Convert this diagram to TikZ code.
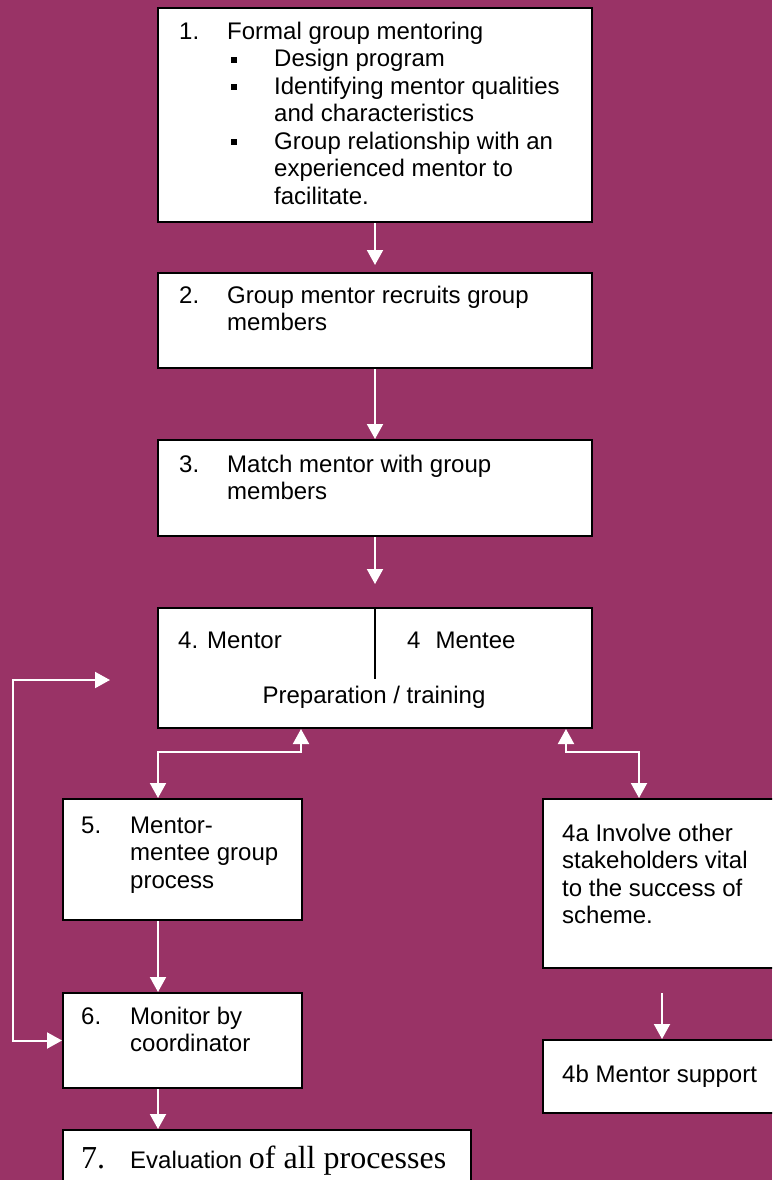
\documentclass[tikz,border=0pt]{standalone}
\usepackage{fontspec}
\setmainfont{Liberation Sans}
\newfontfamily\timesfont{Liberation Serif}
\usetikzlibrary{arrows.meta}
\definecolor{plum}{RGB}{153,51,102}
% square bullet followed by the hanging indent of the list
\newcommand\bulsq{\makebox[43pt][l]{\rule[4pt]{6pt}{6pt}}}
\newcommand\hangin{\hspace*{43pt}}
\newcommand\lines[1]{\parbox[t]{420pt}{#1}}

\begin{document}
\begin{tikzpicture}[x=1pt,y=-1pt,
  box/.style={draw=black,line width=2pt,fill=white,inner sep=0pt,anchor=north west},
  txt/.style={anchor=base west,inner sep=0pt,font=\fontsize{24}{27.5}\selectfont},
  tip/.style={Triangle[width=16pt,length=15pt]},
  flow/.style={draw=white,line width=2pt,-{Triangle[width=16pt,length=15pt]}},
  both/.style={draw=white,line width=2pt,{Triangle[width=16pt,length=15pt]}-{Triangle[width=16pt,length=15pt]}}]

\useasboundingbox (0,0) rectangle (772,1180);
\fill[plum] (0,0) rectangle (772,1180);
\clip (0,0) rectangle (772,1180);

% ---- boxes ----
\node[box,minimum width=434pt,minimum height=214pt] (box1) at (157,7) {};
\node[box,minimum width=434pt,minimum height=95pt]  (box2) at (157,272) {};
\node[box,minimum width=434pt,minimum height=96pt]  (box3) at (157,439) {};
\node[box,minimum width=434pt,minimum height=120pt] (box4) at (157,607) {};
\node[box,minimum width=239pt,minimum height=121pt] (box5) at (62,798) {};
\node[box,minimum width=239pt,minimum height=95pt]  (box6) at (62,992) {};
\node[box,minimum width=408pt,minimum height=90pt]  (box7) at (62,1129) {};
\node[box,minimum width=260pt,minimum height=169pt] (box4a) at (542,798) {};
\node[box,minimum width=260pt,minimum height=73pt]  (box4b) at (542,1039) {};

% divider between mentor and mentee
\coordinate (divend) at (0,679);
\draw[line width=1.5pt] (box4.north) -- (box4.north |- divend);

% ---- texts ----
\node[txt] (n1) at (179,40) {1.};
\node[txt] (t1) at (227,40) {Formal group mentoring};
\node[txt] (t1b) at (231,67) {\lines{\bulsq Design program\\
  \bulsq Identifying mentor qualities\\
  \hangin and characteristics\\
  \bulsq Group relationship with an\\
  \hangin experienced mentor to\\
  \hangin facilitate.}};

\node[txt] (n2) at (179,303) {2.};
\node[txt] (t2) at (227,303) {\lines{Group mentor recruits group\\members}};

\node[txt] (n3) at (179,472) {3.};
\node[txt] (t3) at (227,472) {\lines{Match mentor with group\\members}};

\node[txt] (t4l) at (178,648) {4. Mentor};
\node[txt] (t4r) at (407,648) {4\hspace{15pt}Mentee};
\node[txt,anchor=base] (t4b) at (374,703) {Preparation / training};

\node[txt] (n5) at (81,833) {5.};
\node[txt] (t5) at (130,833) {\lines{Mentor-\\mentee group\\process}};

\node[txt] (n6) at (81,1024) {6.};
\node[txt] (t6) at (130,1024) {\lines{Monitor by\\coordinator}};

\node[txt,font=\fontsize{32}{36}\timesfont] (n7) at (81,1168) {7.};
\node[txt] (t7) at (130,1168) {Evaluation {\fontsize{32}{36}\timesfont of all processes}};

\node[txt] (t4a) at (562,841) {\lines{4a Involve other\\stakeholders vital\\to the success of\\scheme.}};
\node[txt] (t4bx) at (562,1082) {4b Mentor support};

% ---- connectors ----
\draw[flow,shorten >=7pt] (box1.south) -- (box2.north);
\draw[flow] (box2.south) -- (box3.north);
\draw[flow,shorten >=23pt] (box3.south) -- (box4.north);

\coordinate (lx) at (158,0);
\coordinate (ux) at (301,0);
\coordinate (rx) at (566,0);
\coordinate (ax) at (639,0);
\coordinate (jy) at (0,752);
\draw[both] (box4.south -| ux) -- (ux |- jy) -| (box5.north -| lx);
\draw[both] (box4.south -| rx) -- (rx |- jy) -| (box4a.north -| ax);

\draw[flow] (box5.south -| lx) -- (box6.north -| lx);
\draw[flow] (box6.south -| lx) -- (box7.north -| lx);

\coordinate (bx) at (662,0);
\draw[flow,shorten <=24pt] (box4a.south -| bx) -- (box4b.north -| bx);

% feedback loop into the preparation stage
\coordinate (fbtip) at (110,680);
\coordinate (fb) at (13,680);
\draw[both] (fbtip) -- (fb) |- (box6.west);

\end{tikzpicture}
\end{document}
